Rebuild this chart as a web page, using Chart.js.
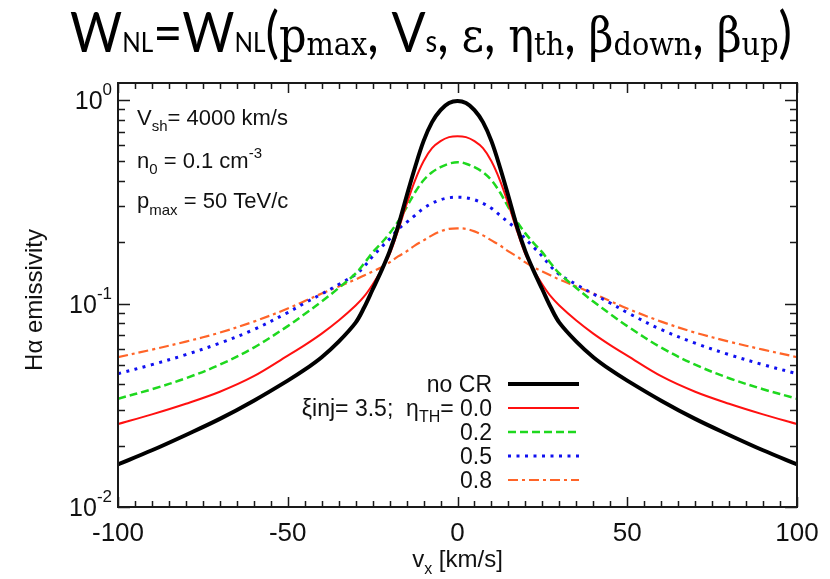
<!DOCTYPE html>
<html>
<head>
<meta charset="utf-8">
<script src="https://cdn.jsdelivr.net/npm/chart.js@4/dist/chart.umd.min.js"></script>
<style>
  html, body { margin: 0; padding: 0; background: #ffffff; }
  #c { display: block; }
</style>
</head>
<body>
<canvas id="c" width="830" height="579"></canvas>
<script>
// ---- data ----
const vx = [-100,-90,-80,-70,-60,-50,-45,-40,-35,-30,-27.5,-25,-22.5,-20,-17.5,-15,-12.5,-10,-7.5,-5,-2.5,0,
            2.5,5,7.5,10,12.5,15,17.5,20,22.5,25,27.5,30,35,40,45,50,60,70,80,90,100];

const noCR = [0.0162,0.0190,0.0226,0.0271,0.0333,0.0418,0.0473,0.0545,0.0650,0.0806,0.0956,0.1172,0.1438,0.1804,0.2394,0.3366,0.4677,0.6281,0.7791,0.8927,0.9665,0.99,
              0.9665,0.8927,0.7791,0.6281,0.4677,0.3366,0.2394,0.1804,0.1438,0.1172,0.0956,0.0806,0.0650,0.0545,0.0473,0.0418,0.0333,0.0271,0.0226,0.0190,0.0162];

const eta00 = [0.02555,0.02852,0.03217,0.03686,0.04394,0.05544,0.06246,0.07115,0.08247,0.09775,0.1083,0.1241,0.1454,0.1743,0.2289,0.3074,0.4035,0.5006,0.5801,0.6281,0.6573,0.6647,
               0.6573,0.6281,0.5801,0.5006,0.4035,0.3074,0.2289,0.1743,0.1454,0.1241,0.1083,0.09775,0.08247,0.07115,0.06246,0.05544,0.04394,0.03686,0.03217,0.02852,0.02555];

const eta02 = [0.03404,0.03792,0.04295,0.05006,0.06073,0.07747,0.08877,0.1023,0.1192,0.1405,0.1574,0.1783,0.1975,0.2212,0.2534,0.2971,0.3522,0.4035,0.4419,0.4677,0.4867,0.4950,
               0.4867,0.4677,0.4419,0.4035,0.3522,0.2971,0.2534,0.2212,0.1975,0.1783,0.1574,0.1405,0.1192,0.1023,0.08877,0.07747,0.06073,0.05006,0.04295,0.03792,0.03404];

const eta05 = [0.04521,0.05006,0.05608,0.06389,0.07445,0.09030,0.1006,0.1114,0.1241,0.1390,0.1521,0.1704,0.1887,0.2078,0.2315,0.2506,0.2714,0.2938,0.3109,0.3236,0.3310,0.3329,
               0.3310,0.3236,0.3109,0.2938,0.2714,0.2506,0.2315,0.2078,0.1887,0.1704,0.1521,0.1390,0.1241,0.1114,0.1006,0.09030,0.07445,0.06389,0.05608,0.05006,0.04521];

const eta08 = [0.05452,0.05936,0.06498,0.07197,0.08151,0.09449,0.1029,0.1120,0.1213,0.1313,0.1374,0.1438,0.1504,0.1592,0.1704,0.1804,0.1931,0.2043,0.2163,0.2263,0.2328,0.2342,
               0.2328,0.2263,0.2163,0.2043,0.1931,0.1804,0.1704,0.1592,0.1504,0.1438,0.1374,0.1313,0.1213,0.1120,0.1029,0.09449,0.08151,0.07197,0.06498,0.05936,0.05452];

const seriesLabels = ['no CR', '0.0', '0.2', '0.5', '0.8'];
const xMajorTicks = [-100, -50, 0, 50, 100];
const xTickLabels = ['-100', '-50', '0', '50', '100'];
const xMinorStep = 5;
const yMajorTicks = [0.01, 0.1, 1];
const yTickExponents = ['-2', '-1', '0'];

// ---- styles ----
const styles = [
  { color: '#000000', width: 4,   dash: [] },
  { color: '#ff1010', width: 2,   dash: [] },
  { color: '#1ed81e', width: 2.5, dash: [8, 4] },
  { color: '#1010f0', width: 3,   dash: [3, 5.5] },
  { color: '#ff6428', width: 2.2, dash: [10, 4, 3, 4] }
];
const seriesData = [noCR, eta00, eta02, eta05, eta08];

const datasets = seriesData.map((arr, i) => ({
  label: seriesLabels[i],
  data: vx.map((x, k) => ({ x: x, y: arr[k] })),
  borderColor: styles[i].color,
  borderWidth: styles[i].width,
  borderDash: styles[i].dash,
  borderCapStyle: 'butt',
  fill: false,
  pointRadius: 0,
  tension: 0.35,
  order: i
}));

const SANS = '"Liberation Sans", Arial, sans-serif';
const TSANS = 'Lato, "Open Sans", sans-serif';
const TSERIF = '"DejaVu Serif", "Liberation Serif", serif';

function measure(ctx, parts) {
  let w = 0;
  for (const p of parts) { ctx.font = p.f; w += ctx.measureText(p.t).width; }
  return w;
}
function rich(ctx, parts, x, y, align) {
  const w = measure(ctx, parts);
  let cx = align === 'right' ? x - w : (align === 'center' ? x - w / 2 : x);
  ctx.textAlign = 'left';
  ctx.textBaseline = 'alphabetic';
  for (const p of parts) {
    ctx.font = p.f;
    ctx.fillText(p.t, cx, y + (p.dy || 0));
    cx += ctx.measureText(p.t).width;
  }
  return w;
}
const F = (size, fam) => size + 'px ' + (fam || SANS);

const decor = {
  id: 'decor',
  afterDraw(chart) {
    const { ctx, chartArea: a, scales: { x, y } } = chart;
    ctx.save();
    ctx.fillStyle = '#000';

    // frame
    ctx.strokeStyle = '#1a1a1a';
    ctx.lineWidth = 2;
    ctx.setLineDash([]);
    ctx.strokeRect(a.left, a.top, a.right - a.left, a.bottom - a.top);

    // x ticks (inward, top and bottom)
    ctx.lineWidth = 1.5;
    for (let v = x.min; v <= x.max + 1e-9; v += xMinorStep) {
      const px = Math.round(x.getPixelForValue(v)) + 0.5;
      const len = xMajorTicks.includes(v) ? 10 : 6;
      ctx.beginPath();
      ctx.moveTo(px, a.bottom); ctx.lineTo(px, a.bottom - len);
      ctx.moveTo(px, a.top); ctx.lineTo(px, a.top + len);
      ctx.stroke();
    }
    // y ticks (log, inward, left and right)
    for (const base of yMajorTicks) {
      for (let m = 1; m <= 9; m++) {
        const v = base * m;
        if (v > y.max + 1e-9 || v < y.min - 1e-12) continue;
        const py = Math.round(y.getPixelForValue(v)) + 0.5;
        const len = m === 1 ? 12 : 7;
        ctx.beginPath();
        ctx.moveTo(a.left, py); ctx.lineTo(a.left + len, py);
        ctx.moveTo(a.right, py); ctx.lineTo(a.right - len, py);
        ctx.stroke();
      }
    }

    // x tick labels
    ctx.fillStyle = '#111';
    xMajorTicks.forEach((v, i) => {
      rich(ctx, [{ t: xTickLabels[i], f: F(26) }], x.getPixelForValue(v), 541, 'center');
    });
    // y tick labels 10^n
    yMajorTicks.forEach((v, i) => {
      const py = y.getPixelForValue(v);
      rich(ctx, [{ t: '10', f: F(25) }, { t: yTickExponents[i], f: F(17), dy: -14 }], 112, py + 9, 'right');
    });

    // axis titles
    rich(ctx, [{ t: 'v', f: F(24) }, { t: 'x', f: F(16), dy: 7 }, { t: ' [km/s]', f: F(24) }],
         (a.left + a.right) / 2, 567, 'center');
    ctx.save();
    ctx.translate(42, 300);
    ctx.rotate(-Math.PI / 2);
    rich(ctx, [{ t: 'H\u03b1 emissivity', f: F(24) }], 0, 0, 'center');
    ctx.restore();

    // annotations
    rich(ctx, [{ t: 'V', f: F(22) }, { t: 'sh', f: F(15), dy: 6 }, { t: '= 4000 km/s', f: F(22) }], 137, 125, 'left');
    rich(ctx, [{ t: 'n', f: F(22) }, { t: '0', f: F(15), dy: 6 }, { t: ' = 0.1 cm', f: F(22) }, { t: '-3', f: F(15), dy: -10 }], 137, 168, 'left');
    rich(ctx, [{ t: 'p', f: F(22) }, { t: 'max', f: F(15), dy: 7 }, { t: ' = 50 TeV/c', f: F(22) }], 137, 208, 'left');

    // legend
    const legRight = 492, legBase = [392, 416, 440, 464, 488];
    const legText = [
      [{ t: seriesLabels[0], f: F(23) }],
      [{ t: '\u03beinj= 3.5;  \u03b7', f: F(23) }, { t: 'TH', f: F(16), dy: 6 }, { t: '= ' + seriesLabels[1], f: F(23) }],
      [{ t: seriesLabels[2], f: F(23) }],
      [{ t: seriesLabels[3], f: F(23) }],
      [{ t: seriesLabels[4], f: F(23) }]
    ];
    legText.forEach((parts, i) => {
      ctx.fillStyle = '#111';
      rich(ctx, parts, legRight, legBase[i], 'right');
      const ly = legBase[i] - 8;
      ctx.strokeStyle = styles[i].color;
      ctx.lineWidth = styles[i].width;
      ctx.setLineDash(styles[i].dash);
      ctx.lineCap = 'butt';
      ctx.beginPath();
      ctx.moveTo(508, ly); ctx.lineTo(579, ly);
      ctx.stroke();
    });
    ctx.setLineDash([]);

    // page title
    const tparts = [
      { t: 'W', f: F(56, TSANS) }, { t: 'NL', f: F(27, TSANS) },
      { t: '=W', f: F(56, TSANS) }, { t: 'NL', f: F(27, TSANS) },
      { t: '(', f: F(56, TSANS) },
      { t: 'p', f: F(48, TSERIF) }, { t: 'max', f: F(32, TSERIF), dy: 3 },
      { t: ', V', f: F(56, TSANS) }, { t: 's', f: F(30, TSANS) },
      { t: ', ', f: F(56, TSANS) }, { t: '\u03b5', f: F(48, TSERIF) },
      { t: ', ', f: F(56, TSANS) }, { t: '\u03b7', f: F(48, TSERIF) }, { t: 'th', f: F(32, TSERIF), dy: 3 },
      { t: ', ', f: F(56, TSANS) }, { t: '\u03b2', f: F(48, TSERIF) }, { t: 'down', f: F(32, TSERIF), dy: 3 },
      { t: ', ', f: F(56, TSANS) }, { t: '\u03b2', f: F(48, TSERIF) }, { t: 'up', f: F(32, TSERIF), dy: 3 },
      { t: ')', f: F(56, TSANS) }
    ];
    const tw = measure(ctx, tparts);
    ctx.fillStyle = '#000';
    ctx.save();
    ctx.translate(70, 0);
    ctx.scale(722 / tw, 1);
    rich(ctx, tparts, 0, 52, 'left');
    ctx.restore();

    ctx.restore();
  }
};

new Chart(document.getElementById('c'), {
  type: 'line',
  data: { datasets: datasets },
  options: {
    responsive: false,
    animation: false,
    devicePixelRatio: 1,
    layout: { padding: { left: 118, right: 33, top: 83, bottom: 72 } },
    plugins: { legend: { display: false }, tooltip: { enabled: false }, title: { display: false } },
    scales: {
      x: { type: 'linear', min: -100, max: 100, display: false },
      y: { type: 'logarithmic', min: 0.01, max: 1.213, display: false }
    }
  },
  plugins: [decor]
});
</script>
</body>
</html>
